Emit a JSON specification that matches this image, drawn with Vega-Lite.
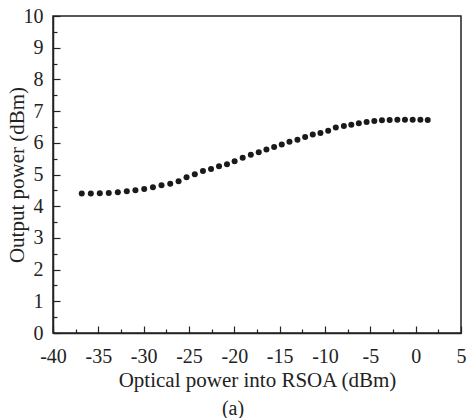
{
  "$schema": "https://vega.github.io/schema/vega-lite/v6.json",
  "width": 408,
  "height": 317,
  "autosize": "none",
  "padding": {"left": 53, "top": 16, "right": 7, "bottom": 85},
  "background": "white",
  "config": {
    "view": {"stroke": "#222", "strokeWidth": 1.5},
    "font": "Liberation Serif"
  },
  "title": {
    "text": "(a)",
    "orient": "bottom",
    "anchor": "middle",
    "dx": -24,
    "offset": 9,
    "font": "Liberation Serif",
    "fontSize": 20,
    "fontWeight": "normal",
    "color": "#222"
  },
  "data": {
    "values": [
      {"p": -36.83, "o": 4.40}, {"p": -35.83, "o": 4.40}, {"p": -34.84, "o": 4.41},
      {"p": -33.85, "o": 4.42}, {"p": -32.85, "o": 4.44}, {"p": -31.86, "o": 4.47},
      {"p": -30.91, "o": 4.50}, {"p": -29.94, "o": 4.54}, {"p": -28.98, "o": 4.60},
      {"p": -28.03, "o": 4.66}, {"p": -27.07, "o": 4.71}, {"p": -26.15, "o": 4.79},
      {"p": -25.27, "o": 4.91}, {"p": -24.36, "o": 5.01}, {"p": -23.46, "o": 5.11},
      {"p": -22.57, "o": 5.17}, {"p": -21.69, "o": 5.26}, {"p": -20.81, "o": 5.32},
      {"p": -19.97, "o": 5.42}, {"p": -19.08, "o": 5.53}, {"p": -18.18, "o": 5.62},
      {"p": -17.31, "o": 5.70}, {"p": -16.46, "o": 5.79}, {"p": -15.61, "o": 5.87},
      {"p": -14.77, "o": 5.95}, {"p": -13.92, "o": 6.03}, {"p": -13.04, "o": 6.10},
      {"p": -12.19, "o": 6.18}, {"p": -11.35, "o": 6.26}, {"p": -10.50, "o": 6.31},
      {"p": -9.65, "o": 6.38}, {"p": -8.81, "o": 6.48}, {"p": -7.92, "o": 6.53},
      {"p": -7.10, "o": 6.57}, {"p": -6.27, "o": 6.62}, {"p": -5.41, "o": 6.66},
      {"p": -4.56, "o": 6.69}, {"p": -3.72, "o": 6.71}, {"p": -2.87, "o": 6.72},
      {"p": -2.02, "o": 6.73}, {"p": -1.18, "o": 6.73}, {"p": -0.33, "o": 6.73},
      {"p": 0.52, "o": 6.73}, {"p": 1.33, "o": 6.72}
    ]
  },
  "mark": {"type": "point", "filled": true, "shape": "circle", "size": 36, "color": "#1a1a1a", "opacity": 1},
  "encoding": {
    "x": {
      "field": "p",
      "type": "quantitative",
      "scale": {"domain": [-40, 5], "nice": false, "zero": false},
      "axis": {
        "title": "Optical power into RSOA (dBm)",
        "values": [-40, -37.5, -35, -32.5, -30, -27.5, -25, -22.5, -20, -17.5, -15, -12.5, -10, -7.5, -5, -2.5, 0, 2.5, 5],
        "labelExpr": "datum.value % 5 === 0 ? '' + datum.value : ''",
        "grid": false,
        "domainColor": "#222",
        "domainWidth": 1.5,
        "tickColor": "#222",
        "tickWidth": 1.2,
        "tickSize": {"condition": {"test": "datum.value % 5 === 0", "value": -7}, "value": -4},
        "labelPadding": 20,
        "labelFont": "Liberation Serif",
        "labelFontSize": 20,
        "labelColor": "#222",
        "labelFlush": false,
        "labelOverlap": false,
        "titleFont": "Liberation Serif",
        "titleFontSize": 21,
        "titleFontWeight": "normal",
        "titleColor": "#222",
        "titleBaseline": "alphabetic",
        "titleY": 53
      }
    },
    "y": {
      "field": "o",
      "type": "quantitative",
      "scale": {"domain": [0, 10], "nice": false},
      "axis": {
        "title": "Output power (dBm)",
        "values": [0, 0.5, 1, 1.5, 2, 2.5, 3, 3.5, 4, 4.5, 5, 5.5, 6, 6.5, 7, 7.5, 8, 8.5, 9, 9.5, 10],
        "labelExpr": "datum.value % 1 === 0 ? '' + datum.value : ''",
        "grid": false,
        "domainColor": "#222",
        "domainWidth": 1.5,
        "tickColor": "#222",
        "tickWidth": 1.2,
        "tickSize": {"condition": {"test": "datum.value % 1 === 0", "value": -7}, "value": -4},
        "labelPadding": 17,
        "labelFont": "Liberation Serif",
        "labelFontSize": 20,
        "labelColor": "#222",
        "labelFlush": false,
        "labelOverlap": false,
        "titleFont": "Liberation Serif",
        "titleFontSize": 21,
        "titleFontWeight": "normal",
        "titleColor": "#222",
        "titleBaseline": "middle",
        "titleX": -36
      }
    }
  }
}
